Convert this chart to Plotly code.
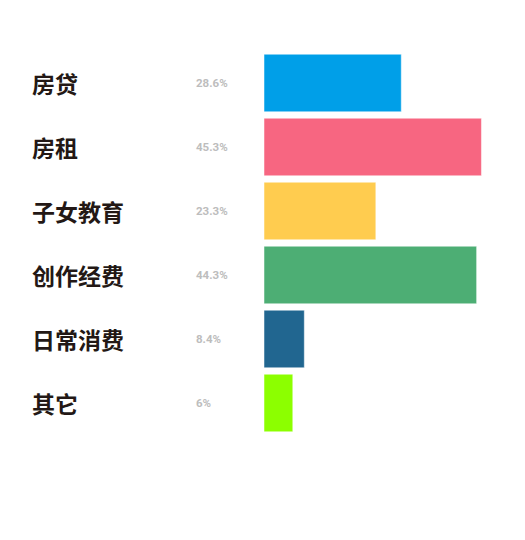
import plotly.graph_objects as go

# Daten
categories = ["房贷", "房租", "子女教育", "创作经费", "日常消费", "其它"]
values = [28.6, 45.3, 23.3, 44.3, 8.4, 6]
value_labels = ["28.6%", "45.3%", "23.3%", "44.3%", "8.4%", "6%"]
colors = ["#009FE8", "#F76681", "#FFCC4F", "#4DAE74", "#216690", "#8CFF00"]

fig = go.Figure(go.Bar(
    x=values,
    y=categories,
    orientation="h",
    marker=dict(color=colors, line=dict(color="rgba(255,255,255,0.5)", width=1)),
    hoverinfo="skip",
))

# Beschriftungen links: Kategorie und Prozentwert
annotations = []
for cat, lab in zip(categories, value_labels):
    annotations.append(dict(
        x=-0.975, y=cat, xref="paper", yref="y", text=cat, showarrow=False,
        xanchor="left", yanchor="middle",
        font=dict(family="Noto Sans CJK SC", size=23, color="#231815", weight="bold"),
    ))
    annotations.append(dict(
        x=-0.292, y=cat, xref="paper", yref="y", text=lab, showarrow=False,
        xanchor="left", yanchor="middle",
        font=dict(family="Roboto", size=11.5, color="#BDBDBD", weight="bold"),
    ))

fig.update_layout(
    width=525,
    height=540,
    margin=dict(l=256, r=29, t=43, b=113),
    paper_bgcolor="white",
    plot_bgcolor="white",
    bargap=0.1,
    showlegend=False,
    annotations=annotations,
    xaxis=dict(range=[0, 50], visible=False, fixedrange=True),
    yaxis=dict(autorange="reversed", visible=False, fixedrange=True),
)

fig.write_html("out.html")
